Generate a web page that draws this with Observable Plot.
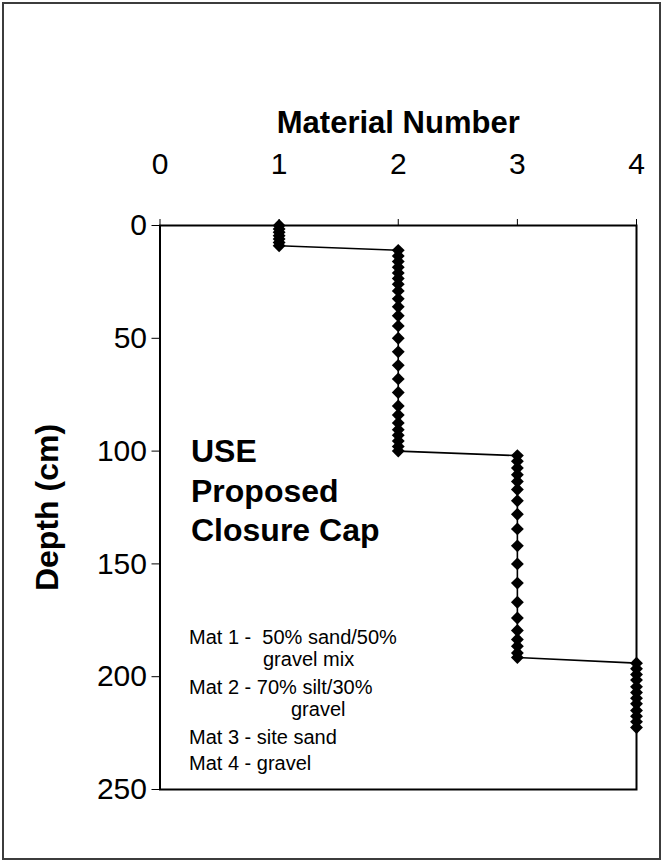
<!DOCTYPE html>
<html>
<head>
<meta charset="utf-8">
<script src="https://cdn.jsdelivr.net/npm/d3@7"></script>
<script src="https://cdn.jsdelivr.net/npm/@observablehq/plot@0.6"></script>
<style>
  html, body { margin: 0; padding: 0; background: #fff; }
  #wrap { position: relative; width: 663px; height: 862px; overflow: hidden; }
  #border { position: absolute; left: 2px; top: 2px; width: 655px; height: 854px; border: 2px solid #3c3c3c; pointer-events: none; }
  svg { font-family: Arial, "Liberation Sans", sans-serif; }
</style>
</head>
<body>
<div id="wrap"><div id="border"></div></div>
<script>
// Material number of each node layer
const materials = [1, 2, 3, 4];
// Node depths (cm) for each material layer
const mat1Depth = [0, 1.5, 3, 4.5, 6, 7.5, 9];
const mat2Depth = [11, 13.5, 16, 18.5, 21, 23.5, 26, 29, 32.5, 36, 40, 44.5, 50, 56, 62, 68, 74, 80, 84, 87.5, 90.5, 93, 95.5, 98, 100];
const mat3Depth = [102, 104.5, 107.5, 110.5, 113.5, 117, 122, 128, 134.5, 142, 150, 158.5, 167, 174, 179.5, 183.5, 186.5, 189.5, 191.5];
const mat4Depth = [194, 196.5, 199, 201.5, 204.5, 207, 209.5, 212, 215, 217.5, 220, 222.5];
// Axis ticks
const xTicks = [0, 1, 2, 3, 4];
const yTicks = [0, 50, 100, 150, 200, 250];
// Text
const xTitle = "Material Number";
const yTitle = "Depth (cm)";
const capTitle = "USE\nProposed\nClosure Cap";
const legendLines = [
  "Mat 1 -  50% sand/50%",
  "gravel mix",
  "Mat 2 - 70% silt/30%",
  "gravel",
  "Mat 3 - site sand",
  "Mat 4 - gravel"
];

const depthsByMat = [mat1Depth, mat2Depth, mat3Depth, mat4Depth];
const data = [];
materials.forEach((m, i) => depthsByMat[i].forEach(d => data.push({material: m, depth: d})));

const W = 663, H = 862;
const legendStyle = {frameAnchor: "top-left", text: d => d, textAnchor: "start", fontSize: 20};
const chart = Plot.plot({
  width: W,
  height: H,
  marginLeft: 159.5,
  marginRight: 27,
  marginTop: 225,
  marginBottom: 73,
  style: {fontFamily: "Arial, 'Liberation Sans', sans-serif", background: "transparent", color: "#000"},
  x: {domain: [0, 4], axis: null},
  y: {domain: [0, 250], reverse: true, axis: null},
  marks: [
    Plot.axisX({anchor: "top", ticks: xTicks, tickFormat: "d", tickSize: 7, tickPadding: 45, fontSize: 30, label: null, strokeWidth: 1}),
    Plot.axisY({anchor: "left", ticks: yTicks, tickFormat: "d", tickSize: 8, tickPadding: 5, fontSize: 30, label: null, strokeWidth: 1}),
    Plot.frame({stroke: "#000", strokeWidth: 2}),
    Plot.line(data, {x: "material", y: "depth", stroke: "#000", strokeWidth: 1.6}),
    Plot.dot(data, {x: "material", y: "depth", symbol: "diamond2", r: 5.8, fill: "#000", stroke: "none"}),
    Plot.text([xTitle], {frameAnchor: "top", text: d => d, dy: -115, fontSize: 31, fontWeight: "bold"}),
    Plot.text([yTitle], {frameAnchor: "left", text: d => d, dx: -112, rotate: -90, textAnchor: "middle", fontSize: 32, fontWeight: "bold"}),
    Plot.text([capTitle], {frameAnchor: "top-left", text: d => d, dx: 31, dy: 209, lineAnchor: "top", textAnchor: "start", lineHeight: 1.23, fontSize: 32, fontWeight: "bold"}),
    Plot.text([legendLines[0]], {...legendStyle, dx: 29, dy: 404}),
    Plot.text([legendLines[1]], {...legendStyle, dx: 103, dy: 426}),
    Plot.text([legendLines[2]], {...legendStyle, dx: 29, dy: 454}),
    Plot.text([legendLines[3]], {...legendStyle, dx: 131, dy: 476}),
    Plot.text([legendLines[4]], {...legendStyle, dx: 29, dy: 504}),
    Plot.text([legendLines[5]], {...legendStyle, dx: 29, dy: 530})
  ]
});
document.getElementById("wrap").prepend(chart);
</script>
</body>
</html>
